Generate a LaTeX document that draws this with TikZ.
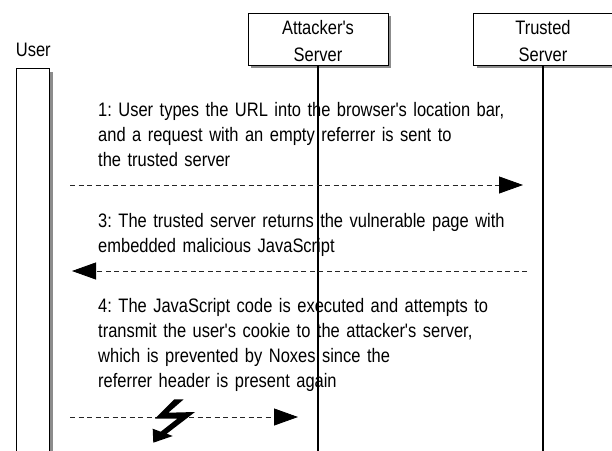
\documentclass[tikz,border=0pt]{standalone}
\usepackage{fontspec}
\newfontfamily\dfont{Liberation Sans}[FakeStretch=0.845, WordSpace=0.84]
\usetikzlibrary{arrows.meta,shadows}
\begin{document}
\frenchspacing
\begin{tikzpicture}[x=1pt,y=-1pt,
  lbl/.style={font=\dfont\fontsize{19.5}{27}\selectfont, align=center, inner sep=0pt},
  head/.style={draw=black, line width=1pt, fill=white, inner sep=0pt,
    general shadow={fill=black!45, shadow xshift=3pt, shadow yshift=-3pt}},
  life/.style={line width=1.2pt},
  msgtext/.style={font=\dfont\fontsize{19.5}{25}\selectfont, text width=470pt, align=left, inner sep=0pt, anchor=base west},
  msg/.style={draw=black!85, line width=0.8pt, dash pattern=on 5pt off 3.5pt,
    -{Triangle[length=24pt,width=17pt,fill=black,color=black]}}
]
\useasboundingbox (0,0) rectangle (612,450);
\fill[white] (0,0) rectangle (612,450);
% participants
\node[lbl, anchor=base] (user) at (33.3,56.7) {User};
\node[head, minimum width=33pt, minimum height=400pt, anchor=north west] (ubox) at (16,68) {};
\node[head, lbl, minimum width=140pt, minimum height=52pt] (att) at (318,39) {\rule{0pt}{19pt}Attacker's\\Server};
\node[head, lbl, minimum width=139pt, minimum height=52pt] (trs) at (543,39) {\rule{0pt}{19pt}Trusted\\Server};
\coordinate (attEnd) at (318,452);
\coordinate (trsEnd) at (543,452);
\draw[life] (att.south) -- (attEnd);
\draw[life] (trs.south) -- (trsEnd);
% message 1
\node[msgtext] (m1) at (98,116.5) {1: User types the URL into the browser's location bar,\\and a request with an empty referrer is sent to\\the trusted server};
\coordinate (a1s) at (70,185);
\coordinate (a1e) at (523,185);
\draw[msg] (a1s) -- (a1e);
% message 3
\node[msgtext] (m3) at (98,227) {3: The trusted server returns the vulnerable page with\\embedded malicious JavaScript};
\coordinate (a3s) at (527,271);
\coordinate (a3e) at (72,271);
\draw[msg] (a3s) -- (a3e);
% message 4
\node[msgtext] (m4) at (98,312.5) {4: The JavaScript code is executed and attempts to\\transmit the user's cookie to the attacker's server,\\which is prevented by Noxes since the\\referrer header is present again};
\coordinate (a4s) at (70,417);
\coordinate (a4e) at (298,417);
\draw[msg] (a4s) -- (a4e);
% lightning bolt
\fill[black] (174.3,399.3) -- (155,418.7) -- (177.3,418.7) -- (160.7,431.7) -- (152.7,428.7)
  -- (153.3,442.7) -- (172.7,436) -- (166.7,433.7) -- (195,412) -- (168.3,412.7)
  -- (183.7,399.3) -- cycle;
\end{tikzpicture}
\end{document}
